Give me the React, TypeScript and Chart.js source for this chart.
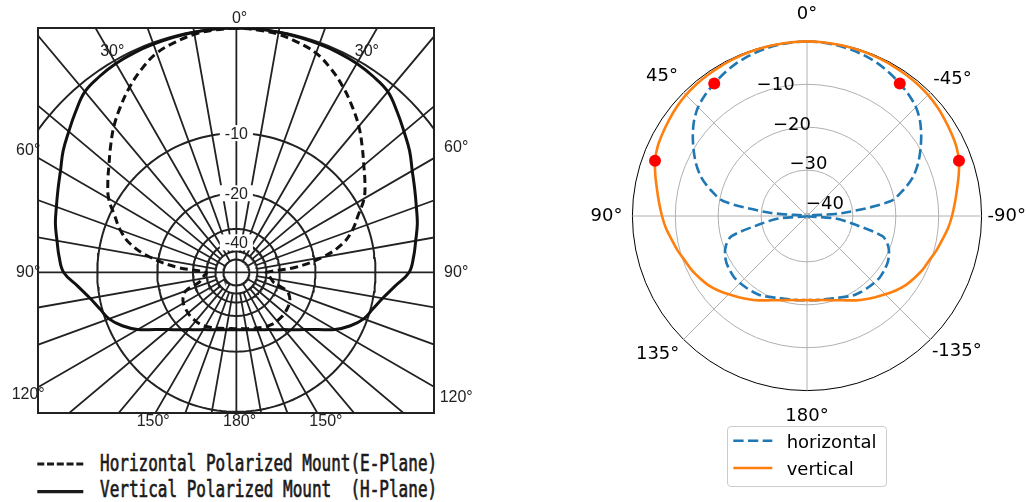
import React, { useEffect, useRef } from 'react';
import { Chart, registerables } from 'chart.js';

Chart.register(...registerables);

// ================= RIGHT CHART DATA (matplotlib-style polar) =================
// angle off boresight in degrees (pattern is symmetric)
const patternAngles = [0, 5, 10, 15, 20, 25, 30, 35, 40, 45, 50, 55, 60, 65, 70, 75, 80, 85, 90,
  95, 100, 105, 110, 115, 120, 125, 130, 135, 140, 145, 150, 155, 160, 165, 170, 175, 180];
const horizontalDb = [0, -0.1, -0.3, -0.6, -1.0, -1.5, -2.2, -3.0, -3.8, -4.8, -6.3, -8.2, -10.2, -12.2,
  -14.5, -17.5, -21.0, -32.0, -40.7, -34.0, -29.5, -22.5, -20.6, -19.6, -19.0, -18.7, -18.5, -18.6,
  -18.8, -19.0, -19.3, -19.9, -20.4, -20.7, -20.9, -21.0, -21.1];
const verticalDb = [0, -0.05, -0.1, -0.15, -0.2, -0.3, -0.4, -0.5, -0.6, -0.8, -1.1, -1.5, -1.9, -2.3,
  -3.0, -4.1, -5.2, -6.1, -6.9, -7.7, -8.7, -9.5, -10.4, -11.0, -11.8, -12.6, -13.7, -14.9, -16.0,
  -17.0, -18.0, -19.0, -19.8, -20.4, -20.8, -21.0, -21.1];
const markerAngles = [35, -35, 70, -70];
const markerDb = [-3, -3, -3, -3];
const rTickValues = [-40, -30, -20, -10];
const angleTickLabels = ['0°', '-45°', '-90°', '-135°', '180°', '135°', '90°', '45°'];
const rMin = -40.7;
const rMax = 0;

// ================= LEFT CHART DATA (scanned datasheet pattern) =================
const leftAngles = patternAngles;
const leftEPlaneDb = [0, -0.1, -0.25, -0.6, -1.05, -1.9, -2.9, -4.0, -5.1, -6.3, -7.4, -8.3, -9.2, -10.8,
  -12.6, -14.9, -18.6, -25.5, -40, -38.5, -36.2, -33.4, -27.1, -25.7, -25.0, -24.7, -24.5, -24.4,
  -24.4, -24.5, -24.8, -25.2, -25.6, -26.0, -26.2, -26.4, -26.4];
const leftHPlaneDb = [0, 0, -0.05, -0.1, -0.15, -0.2, -0.3, -0.5, -0.8, -1.6, -2.4, -3.1, -3.9, -4.5,
  -5.0, -5.4, -5.9, -6.3, -6.8, -8.1, -9.1, -9.8, -10.6, -12.2, -14.2, -16.6, -18.4, -19.7, -21.3,
  -22.6, -23.7, -24.5, -25.1, -25.6, -25.9, -26.1, -26.1];
// nonlinear radial scale of the printed chart: ring level (dB) -> relative radius
const leftRingDb = [0, -10, -20, -30, -40, -50, -60];
const leftRingRadius = [1, 0.57, 0.324, 0.178, 0.123, 0.086, 0.053];
const leftRingLabels = [-10, -20, -40];
const leftAngleLabels = [0, 30, 60, 90, 120, 150, 180];
const leftLegendTexts = ['Horizontal Polarized Mount(E-Plane)', 'Vertical Polarized Mount  (H-Plane)'];
const rightLegendTexts = ['horizontal', 'vertical'];

// ---------------- helpers ----------------
function dbToR(db: number): number {
  if (db >= leftRingDb[0]) return leftRingRadius[0];
  for (let i = 0; i < leftRingDb.length - 1; i++) {
    const a = leftRingDb[i];
    const b = leftRingDb[i + 1];
    if (db <= a && db >= b) {
      const t = (a - db) / (a - b);
      return leftRingRadius[i] + t * (leftRingRadius[i + 1] - leftRingRadius[i]);
    }
  }
  return leftRingRadius[leftRingRadius.length - 1];
}
function polarXY(deg: number, r: number) {
  const t = (deg * Math.PI) / 180;
  return { x: -r * Math.sin(t), y: r * Math.cos(t) };
}
function valueAt(vals: number[], deg: number): number {
  let d = ((deg % 360) + 360) % 360;
  if (d > 180) d = 360 - d;
  return vals[patternAngles.indexOf(d)];
}

const LEFT_FONT = '16px "Liberation Sans", Arial, sans-serif';
const INK = '#222222';

// ================= LEFT CHART =================
function LeftChart() {
  const ref = useRef<HTMLCanvasElement>(null);
  useEffect(() => {
    const canvas = ref.current as HTMLCanvasElement;
    const step = leftAngles[1] - leftAngles[0];

    const ringData: any[] = [];
    leftRingDb.forEach((db) => {
      const r = dbToR(db);
      for (let a = 0; a <= 360; a += 2) ringData.push(polarXY(a, r));
      ringData.push({ x: null, y: null });
    });
    const spokeData: any[] = [];
    for (let a = 0; a < 360; a += 10) {
      const inner = a % 90 === 0 ? 0 : a % 30 === 0 ? dbToR(-60) : dbToR(-50);
      spokeData.push(polarXY(a, inner), polarXY(a, 2), { x: null, y: null });
    }
    const curve = (vals: number[]) => {
      const pts: any[] = [];
      for (let a = 0; a <= 360; a += step) pts.push(polarXY(a, dbToR(valueAt(vals, a))));
      return pts;
    };

    const labelPlugin = {
      id: 'leftLabels',
      afterDatasetsDraw(chart: any) {
        const { ctx, chartArea: ca, scales } = chart;
        const cx = scales.x.getPixelForValue(0);
        const cy = scales.y.getPixelForValue(0);
        ctx.save();
        ctx.font = LEFT_FONT;
        ctx.textAlign = 'center';
        ctx.textBaseline = 'middle';
        leftRingLabels.forEach((db) => {
          const y = scales.y.getPixelForValue(dbToR(db));
          const text = String(db);
          const w = ctx.measureText(text).width;
          ctx.fillStyle = '#ffffff';
          ctx.fillRect(cx - w / 2 - 5, y - 8, w + 10, 16);
          ctx.fillStyle = INK;
          ctx.fillText(text, cx, y + 1);
        });
        const degW = ctx.measureText('°').width;
        ctx.fillStyle = INK;
        leftAngleLabels.forEach((a) => {
          const sides = a === 0 || a === 180 ? [1] : [-1, 1];
          sides.forEach((s) => {
            const ux = s * Math.sin((a * Math.PI) / 180);
            const uy = -Math.cos((a * Math.PI) / 180);
            let x: number;
            let y: number;
            if (a === 0) {
              y = ca.top - 9;
              x = cx;
            } else if (a === 30) {
              y = ca.top + 24;
              x = cx + (ux * (y - cy)) / uy;
            } else if (a >= 150) {
              y = ca.bottom + 9;
              x = a === 180 ? cx : cx + (ux * (y - cy)) / uy;
            } else {
              x = s < 0 ? ca.left - 13 : ca.right + 19;
              y = a === 90 ? cy : cy + (uy * (x - cx)) / ux;
            }
            ctx.fillText(a + '°', x + degW / 2, y);
          });
        });
        ctx.restore();
      },
    };

    const frameAxis = (axis: string, position: string, min: number, max: number) => ({
      type: 'linear',
      axis,
      position,
      display: true,
      min,
      max,
      grid: { display: false, drawTicks: false },
      ticks: { display: false },
      border: { display: true, color: INK, width: 2 },
    });

    const chart = new Chart(canvas, {
      type: 'scatter',
      data: {
        datasets: [
          {
            label: leftLegendTexts[0],
            data: curve(leftEPlaneDb),
            showLine: true,
            borderColor: '#111111',
            borderWidth: 3,
            borderDash: [8, 4.5],
            pointRadius: 0,
            tension: 0.4,
          },
          {
            label: leftLegendTexts[1],
            data: curve(leftHPlaneDb),
            showLine: true,
            borderColor: '#111111',
            borderWidth: 3,
            pointRadius: 0,
            tension: 0.4,
          },
          {
            label: 'spokes',
            data: spokeData,
            showLine: true,
            borderColor: INK,
            borderWidth: 1.8,
            pointRadius: 0,
          },
          {
            label: 'rings',
            data: ringData,
            showLine: true,
            borderColor: INK,
            borderWidth: 2,
            pointRadius: 0,
          },
        ],
      } as any,
      options: {
        responsive: false,
        animation: false,
        events: [],
        layout: { padding: { left: 38, top: 28, right: 46, bottom: 27 } },
        plugins: { legend: { display: false }, tooltip: { enabled: false } },
        scales: {
          x: frameAxis('x', 'bottom', -0.813, 0.81),
          x2: frameAxis('x', 'top', -0.813, 0.81),
          y: frameAxis('y', 'left', -0.575, 1),
          y2: frameAxis('y', 'right', -0.575, 1),
        } as any,
      },
      plugins: [labelPlugin],
    } as any);
    return () => chart.destroy();
  }, []);
  return (
    <canvas
      ref={ref}
      width={480}
      height={440}
      style={{ position: 'absolute', left: 0, top: 0, width: 480, height: 440 }}
    />
  );
}

function LeftLegend() {
  const spanStyle: any = {
    position: 'absolute',
    left: 100,
    fontFamily: '"DejaVu Sans Mono", monospace',
    fontSize: 16,
    lineHeight: '16px',
    fontWeight: 'normal',
    color: '#1a1a1a',
    WebkitTextStroke: '0.5px #1a1a1a',
    whiteSpace: 'pre',
    transform: 'scaleY(1.4)',
    transformOrigin: '0 13.55px',
  };
  return (
    <>
      <svg style={{ position: 'absolute', left: 30, top: 450 }} width={60} height={50}>
        <line x1={7.3} x2={53.3} y1={14} y2={14} stroke="#1a1a1a" strokeWidth={3.2} strokeDasharray="7 2.75" />
        <line x1={7.3} x2={53.3} y1={41.7} y2={41.7} stroke="#1a1a1a" strokeWidth={3.2} />
      </svg>
      <span style={{ ...spanStyle, top: 458.1 }}>{leftLegendTexts[0]}</span>
      <span style={{ ...spanStyle, top: 483.75 }}>{leftLegendTexts[1]}</span>
    </>
  );
}

// ================= RIGHT CHART =================
function RightChart() {
  const ref = useRef<HTMLCanvasElement>(null);
  useEffect(() => {
    const canvas = ref.current as HTMLCanvasElement;
    const step = patternAngles[1] - patternAngles[0];
    const count = 360 / step;
    const perLabel = count / angleTickLabels.length;
    const labels = Array.from({ length: count }, (_, i) => (i % perLabel === 0 ? angleTickLabels[i / perLabel] : ''));
    // radar runs clockwise from the top, matplotlib angle = -clockwise angle
    const toRadar = (vals: number[]) => Array.from({ length: count }, (_, i) => valueAt(vals, -i * step));
    const markers: (number | null)[] = new Array(count).fill(null);
    markerAngles.forEach((m, k) => {
      const cw = (((-m) % 360) + 360) % 360;
      markers[cw / step] = markerDb[k];
    });

    const padByIndex: Record<number, number> = {};
    const pads = [16, 4, 6, 2, 15, 6, 10, 8];
    pads.forEach((p, k) => (padByIndex[k * perLabel] = p));

    const tickPlugin = {
      id: 'rTickLabels',
      afterDatasetsDraw(chart: any) {
        const s = chart.scales.r;
        const ctx = chart.ctx;
        ctx.save();
        ctx.font = '18px "DejaVu Sans"';
        ctx.fillStyle = '#000000';
        ctx.textAlign = 'left';
        ctx.textBaseline = 'bottom';
        rTickValues.forEach((v) => {
          const d = s.getDistanceFromCenterForValue(v);
          const p = s.getPointPosition(0, d, -Math.PI / 8);
          const text = v < 0 ? '\u2212' + Math.abs(v) : String(v);
          ctx.fillText(text, p.x, p.y);
        });
        ctx.restore();
      },
    };

    const chart = new Chart(canvas, {
      type: 'radar',
      data: {
        labels,
        datasets: [
          {
            label: 'markers',
            data: markers,
            showLine: false,
            pointRadius: 6,
            pointBackgroundColor: '#ff0000',
            pointBorderWidth: 0,
          },
          {
            label: rightLegendTexts[1],
            data: toRadar(verticalDb),
            borderColor: '#ff7f0e',
            borderWidth: 2.6,
            pointRadius: 0,
            tension: 0.3,
            fill: false,
          },
          {
            label: rightLegendTexts[0],
            data: toRadar(horizontalDb),
            borderColor: '#1f77b4',
            borderWidth: 2.6,
            borderDash: [10.3, 4.4],
            pointRadius: 0,
            tension: 0.3,
            fill: false,
          },
        ],
      } as any,
      options: {
        responsive: false,
        animation: false,
        events: [],
        plugins: { legend: { display: false }, tooltip: { enabled: false } },
        scales: {
          r: {
            min: rMin,
            max: rMax,
            bounds: 'ticks',
            ticks: { display: false, stepSize: 10, includeBounds: false },
            grid: {
              circular: true,
              color: (c: any) => (c.tick && c.tick.value === rMax ? '#000000' : '#b0b0b0'),
              lineWidth: 1,
            },
            angleLines: {
              display: true,
              color: (c: any) => (c.index % perLabel === 0 ? '#b0b0b0' : 'rgba(0,0,0,0)'),
              lineWidth: (c: any) => (c.index % perLabel === 0 ? 1 : 0),
            },
            pointLabels: {
              display: true,
              color: '#000000',
              font: { family: 'DejaVu Sans', size: 18 },
              padding: (c: any) => padByIndex[c.index] ?? 0,
            },
          },
        } as any,
      },
      plugins: [tickPlugin],
    } as any);
    return () => chart.destroy();
  }, []);
  return (
    <canvas
      ref={ref}
      width={438}
      height={438}
      style={{ position: 'absolute', left: 590, top: -3, width: 438, height: 438 }}
    />
  );
}

function RightLegend() {
  const txt: React.CSSProperties = {
    position: 'absolute',
    left: 58.7,
    fontFamily: '"DejaVu Sans", sans-serif',
    fontSize: 18,
    lineHeight: '18px',
    color: '#000000',
    whiteSpace: 'pre',
  };
  return (
    <div
      style={{
        position: 'absolute',
        left: 727,
        top: 426,
        width: 160,
        height: 61,
        boxSizing: 'border-box',
        border: '1px solid #cccccc',
        borderRadius: 4,
        background: 'rgba(255,255,255,0.8)',
      }}
    >
      <svg style={{ position: 'absolute', left: 0, top: 0 }} width={158} height={59}>
        <line x1={5.3} x2={44.3} y1={13.7} y2={13.7} stroke="#1f77b4" strokeWidth={2.6} strokeDasharray="10.3 4.4" />
        <line x1={5.3} x2={44.3} y1={41} y2={41} stroke="#ff7f0e" strokeWidth={2.6} />
      </svg>
      <span style={{ ...txt, top: 6.1 }}>{rightLegendTexts[0]}</span>
      <span style={{ ...txt, top: 33.4 }}>{rightLegendTexts[1]}</span>
    </div>
  );
}

export default function App() {
  return (
    <div
      style={{
        position: 'fixed',
        left: 0,
        top: 0,
        width: 1026,
        height: 502,
        overflow: 'hidden',
        background: '#ffffff',
      }}
    >
      <LeftChart />
      <LeftLegend />
      <RightChart />
      <RightLegend />
    </div>
  );
}
